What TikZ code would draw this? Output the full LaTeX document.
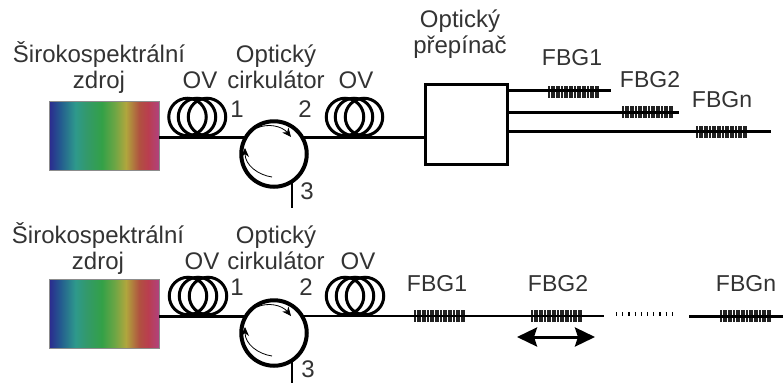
\documentclass[tikz,border=0pt]{standalone}
\usepackage{fontspec}
\setmainfont{Liberation Sans}
\usetikzlibrary{arrows.meta}

\definecolor{LabelGray}{HTML}{333333}
\definecolor{GratingGray}{HTML}{222222}
\pgfdeclarehorizontalshading{Spectrum}{100bp}{
    rgb(0bp)=(.17,.16,.56);
    rgb(25bp)=(.17,.16,.56);
    rgb(30bp)=(.14,.35,.56);
    rgb(37bp)=(.18,.60,.55);
    rgb(42bp)=(.20,.60,.42);
    rgb(49bp)=(.20,.63,.28);
    rgb(55bp)=(.43,.65,.27);
    rgb(60bp)=(.69,.65,.24);
    rgb(66bp)=(.69,.32,.25);
    rgb(70bp)=(.73,.24,.31);
    rgb(75bp)=(.69,.26,.49);
    rgb(100bp)=(.69,.26,.49)}

\begin{document}
\begin{tikzpicture}
    [
        x=1pt,y=-1pt,
        Source/.style={rectangle,minimum width=110pt,minimum height=69pt,inner sep=0pt,shading=Spectrum,draw=black!45,line width=.5pt},
        Coil/.style={circle,minimum size=37.5pt,inner sep=0pt,draw=black,line width=3pt},
        Circulator/.style={circle,minimum size=65.5pt,inner sep=0pt,draw=black,line width=4pt},
        Switch/.style={rectangle,minimum width=82pt,minimum height=80pt,inner sep=0pt,draw=black,line width=3pt},
        Grating/.style={rectangle,minimum width=52pt,minimum height=12pt,inner sep=0pt,
            path picture={\foreach \i in {-25,-22.4,...,26} {\draw[GratingGray,line width=1.9pt] ([xshift=\i pt]path picture bounding box.south) -- ([xshift=\i pt]path picture bounding box.north);}}},
        Fiber/.style={draw=black,line width=3pt},
        ThinFiber/.style={draw=black,line width=2pt},
        Turn/.style={black,line width=.8pt,-{Stealth[length=9pt,width=8pt]}},
        Label/.style={text=LabelGray,font=\fontsize{24}{26}\selectfont,inner sep=0pt,align=center},
        FbgLabel/.style={Label,font=\fontsize{23}{26}\selectfont}
    ]
    \useasboundingbox (0,0) rectangle (783,383);

    % upper setup
    \node[Source] (zdrojA) at (104,135.5) {};
    \node[Coil] (coilA1) at (187.5,117) {};
    \node[Coil] (coilA2) at (197,117) {};
    \node[Coil] (coilA3) at (207,117) {};
    \node[Coil] (coilA4) at (345,117) {};
    \node[Coil] (coilA5) at (354,117) {};
    \node[Coil] (coilA6) at (364,117) {};
    \node[Circulator] (cirkA) at (274,154) {};
    \node[Switch] (prepinac) at (466,124) {};
    \node[Grating] (fbgA1) at (574,91.5) {};
    \node[Grating] (fbgA2) at (648,112) {};
    \node[Grating] (fbgA3) at (722,131.5) {};
    \coordinate (feedA) at (200,137);
    \coordinate (portA3) at (292,208);
    \coordinate (outA1) at (611,90.7);
    \coordinate (outA2) at (679,112);
    \coordinate (outA3) at (771,131.7);

    \draw[Fiber] (zdrojA.east |- feedA) -- (cirkA.149 |- feedA);
    \draw[Fiber] (cirkA.31 |- feedA) -- (prepinac.west |- feedA);
    \draw[ThinFiber] (portA3 |- cirkA.-57) -- (portA3);
    \draw[Fiber] (prepinac.east |- outA1) -- (outA1);
    \draw[Fiber] (prepinac.east |- outA2) -- (outA2);
    \draw[Fiber] (prepinac.east |- outA3) -- (outA3);
    \draw[Turn] (257,128) .. controls (268,123) and (282,126) .. (291,137);
    \draw[Turn] (272,177) .. controls (258,175) and (245,165) .. (245,148);

    \node[Label] (lblA1) at (99,67) {Širokospektrální\\zdroj};
    \node[Label] (lblA2) at (200,80) {OV};
    \node[Label] (lblA3) at (276,67) {Optický\\cirkulátor};
    \node[Label] (lblA4) at (356,80) {OV};
    \node[Label] (lblA5) at (237,109) {1};
    \node[Label] (lblA6) at (305,109) {2};
    \node[Label] (lblA7) at (307,191) {3};
    \node[Label] (lblA8) at (460,34) {Optický\\přepínač};
    \node[FbgLabel] (lblA9) at (572,58) {FBG1};
    \node[FbgLabel] (lblA10) at (650,80) {FBG2};
    \node[FbgLabel] (lblA11) at (722,100) {FBGn};

    % lower setup
    \node[Source] (zdrojB) at (104,314) {};
    \node[Coil] (coilB1) at (188,296) {};
    \node[Coil] (coilB2) at (198,296) {};
    \node[Coil] (coilB3) at (208,296) {};
    \node[Coil] (coilB4) at (345,296) {};
    \node[Coil] (coilB5) at (355,296) {};
    \node[Coil] (coilB6) at (365,296) {};
    \node[Circulator] (cirkB) at (274,333) {};
    \node[Grating] (fbgB1) at (440,316) {};
    \node[Grating] (fbgB2) at (557,316) {};
    \node[Grating] (fbgB3) at (746,316) {};
    \coordinate (feedB) at (200,316);
    \coordinate (portB3) at (292,383);
    \coordinate (endB1) at (604,316);
    \coordinate (dotsB1) at (616,314);
    \coordinate (dotsB2) at (672,314);
    \coordinate (startB2) at (689,316);
    \coordinate (endB2) at (783,316);
    \coordinate (moveL) at (517,337);
    \coordinate (moveR) at (595,337);

    \draw[Fiber] (zdrojB.east |- feedB) -- (cirkB.149 |- feedB);
    \draw[ThinFiber] (cirkB.31 |- feedB) -- (endB1);
    \draw[ThinFiber] (portB3 |- cirkB.-57) -- (portB3);
    \draw[black,line width=4pt,dash pattern=on 1.2pt off 5pt] (dotsB1) -- (dotsB2);
    \draw[Fiber] (startB2) -- (endB2);
    \draw[black,line width=3pt,{Stealth[length=20pt,width=19pt,inset=3pt]}-{Stealth[length=20pt,width=19pt,inset=3pt]}] (moveL) -- (moveR);
    \draw[Turn] (257,307) .. controls (268,302) and (282,305) .. (291,316);
    \draw[Turn] (272,356) .. controls (258,354) and (245,344) .. (245,327);

    \node[Label] (lblB1) at (98,248) {Širokospektrální\\zdroj};
    \node[Label] (lblB2) at (202,261) {OV};
    \node[Label] (lblB3) at (276,248) {Optický\\cirkulátor};
    \node[Label] (lblB4) at (358,261) {OV};
    \node[Label] (lblB5) at (237,287) {1};
    \node[Label] (lblB6) at (306,287) {2};
    \node[Label] (lblB7) at (308,369) {3};
    \node[FbgLabel] (lblB8) at (437,284) {FBG1};
    \node[FbgLabel] (lblB9) at (558,284) {FBG2};
    \node[FbgLabel] (lblB10) at (746,284) {FBGn};
\end{tikzpicture}
\end{document}
